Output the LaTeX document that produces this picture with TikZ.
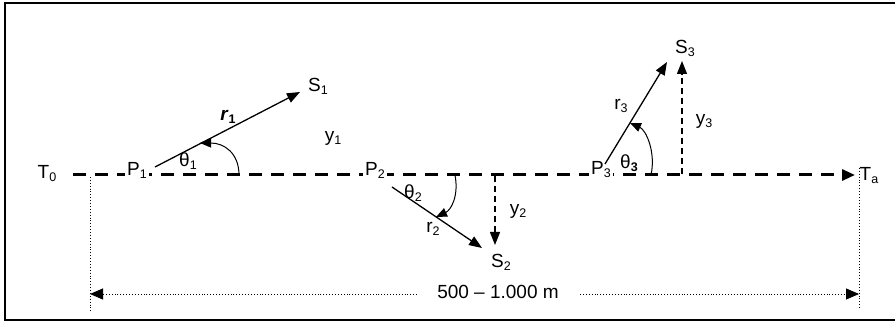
\documentclass[tikz,border=0pt]{standalone}
\usepackage{fontspec}
\setmainfont{Liberation Sans}
\usetikzlibrary{arrows.meta}
\newcommand{\lowsub}[1]{\raisebox{-3pt}{\fontsize{12.5}{13}\selectfont #1}}
\begin{document}
\begin{tikzpicture}[x=1pt,y=-1pt,
  lbl/.style={inner sep=1pt,font=\fontsize{19}{21}\selectfont},
  plbl/.style={lbl,fill=white,inner sep=2pt},
  base/.style={line width=3pt,dash pattern=on 13pt off 9pt,-{Triangle[length=13pt,width=11pt]}},
  vec/.style={line width=1.3pt,-{Triangle[length=13pt,width=10pt]}},
  ang/.style={line width=1pt,-{Triangle[length=11pt,width=9pt]}},
  ydash/.style={line width=1.3pt,dash pattern=on 6pt off 4pt,-{Triangle[length=13pt,width=10pt]}},
  dots/.style={line width=0.9pt,dotted},
  dim/.style={line width=0.9pt,dotted,-{Triangle[length=13pt,width=11pt]}},
  frame/.style={line width=2pt}]
\useasboundingbox (0,0) rectangle (895,323);
% frame
\draw[frame] (895,3) -- (5,3) -- (5,320) -- (895,320);
% baseline
\coordinate (b0) at (73,175);
\coordinate (bE) at (855,175);
\draw[base] (b0) -- (bE);
% labels on baseline
\node[lbl] (T0) at (47,174) {T\lowsub{0}};
\node[plbl] (P1) at (137,170) {P\lowsub{1}};
\node[plbl] (P2) at (375,170) {P\lowsub{2}};
\node[plbl] (P3) at (601,170) {P\lowsub{3}};
% vector 1
\coordinate (p1) at (155,167);
\coordinate (s1) at (300,92);
\draw[vec] (p1) -- (s1);
\node[lbl] (S1) at (318,86) {S\lowsub{1}};
\coordinate (a1s) at (239,175);
\coordinate (a1e) at (200,143);
\draw[ang] (a1s) .. controls (239,153) and (224,143) .. (a1e);
\node[lbl] (th1) at (188,161) {θ\lowsub{1}};
\node[lbl] (r1) at (228,117) {\textbf{\textit{r}}\lowsub{\textbf{1}}};
\node[lbl] (y1) at (333,138) {y\lowsub{1}};
% vector 2
\coordinate (p2) at (392,187);
\coordinate (s2) at (482,248);
\draw[vec] (p2) -- (s2);
\coordinate (a2s) at (455,175);
\coordinate (a2e) at (436,217);
\draw[ang] (a2s) .. controls (459,196) and (451,210) .. (a2e);
\node[lbl] (th2) at (413,193) {θ\lowsub{2}};
\node[lbl] (r2) at (433,229) {r\lowsub{2}};
\coordinate (y2s) at (495,176);
\coordinate (y2e) at (495,245);
\draw[ydash] (y2s) -- (y2e);
\node[lbl] (y2) at (518,211) {y\lowsub{2}};
\node[lbl] (S2) at (501,262) {S\lowsub{2}};
% vector 3
\coordinate (p3) at (605,164);
\coordinate (s3) at (667,62);
\draw[vec] (p3) -- (s3);
\coordinate (a3s) at (651,175);
\coordinate (a3e) at (630,123);
\draw[ang] (a3s) .. controls (656,152) and (646,130) .. (a3e);
\node[lbl] (th3) at (629,163) {θ\lowsub{\textbf{3}}};
\node[lbl] (r3) at (621,106) {r\lowsub{3}};
\coordinate (y3s) at (682,174);
\coordinate (y3e) at (682,61);
\draw[ydash] (y3s) -- (y3e);
\node[lbl] (y3) at (704,121) {y\lowsub{3}};
\node[lbl] (S3) at (685,48) {S\lowsub{3}};
% end labels and dimension
\node[lbl] (Ta) at (869,176) {T\lowsub{a}};
\coordinate (v1t) at (90,177);
\coordinate (v1b) at (90,312);
\coordinate (v2t) at (859,168);
\coordinate (v2b) at (859,308);
\draw[dots] (v1t) -- (v1b);
\draw[dots] (v2t) -- (v2b);
\node[lbl] (dimt) at (498,292) {500 – 1.000 m};
\coordinate (dl) at (90,294);
\coordinate (dr) at (859,294);
\draw[dim] (417,294) -- (dl);
\draw[dim] (580,294) -- (dr);
\end{tikzpicture}
\end{document}
